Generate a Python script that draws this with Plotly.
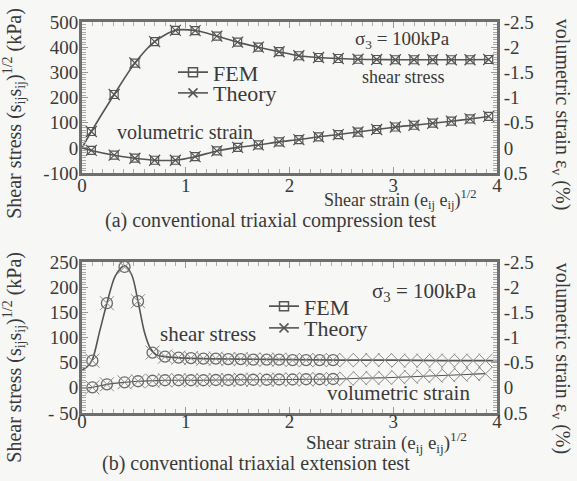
import plotly.graph_objects as go

# ---------------- data ----------------
# (a) conventional triaxial compression test
strain_a = [0.09, 0.31, 0.51, 0.70, 0.90, 1.09, 1.30, 1.50, 1.70, 1.90, 2.09,
            2.28, 2.47, 2.66, 2.84, 3.02, 3.20, 3.38, 3.56, 3.74, 3.92]
shear_a = [65, 212, 337, 422, 467, 466, 444, 420, 400, 382, 366,
           359, 355, 352, 351, 350, 350, 350, 350, 350, 351]
vol_a = [0.05, 0.145, 0.205, 0.245, 0.245, 0.175, 0.06, -0.01, -0.06, -0.12, -0.165,
         -0.22, -0.265, -0.315, -0.365, -0.415, -0.45, -0.49, -0.53, -0.575, -0.625]
start_a = [0.0, 0.0, 0.0]  # x, shear, vol where the curves begin

# (b) conventional triaxial extension test
strain_b = [0.10, 0.24, 0.41, 0.54, 0.68, 0.80, 0.93, 1.05, 1.17, 1.29, 1.41,
            1.53, 1.65, 1.78, 1.90, 2.03, 2.16, 2.29, 2.42, 2.55, 2.68, 2.80,
            2.92, 3.05, 3.17, 3.29, 3.41, 3.53, 3.65, 3.77, 3.89]
shear_b = [54, 168, 240, 172, 70, 62, 60, 59, 58, 58, 57,
           57, 56, 56, 56, 55, 55, 55, 55, 55, 55, 55,
           55, 54, 54, 54, 54, 54, 54, 54, 54]
vol_b = [-0.01, -0.07, -0.11, -0.13, -0.14, -0.15, -0.15, -0.15, -0.15, -0.155, -0.155,
         -0.16, -0.16, -0.16, -0.165, -0.165, -0.17, -0.17, -0.175, -0.18, -0.19, -0.195,
         -0.2, -0.21, -0.22, -0.23, -0.24, -0.25, -0.26, -0.27, -0.28]
start_b = [0.0, 35, 0.0]
fem_count_b = 19  # FEM points end near strain 2.4

# theory curve of the extension-test shear stress (denser reading of the hump)
curve_b_x = [0.0, 0.05, 0.10, 0.17, 0.24, 0.32, 0.41, 0.48, 0.54, 0.60, 0.66, 0.72, 0.80,
             1.0, 1.5, 2.0, 2.5, 3.0, 3.5, 4.0]
curve_b_y = [35, 42, 56, 112, 168, 222, 243, 224, 172, 112, 78, 65, 62,
             59, 57, 56, 55, 55, 54, 54]

# ticks
x_ticks = [0, 1, 2, 3, 4]
x_ticktext = ["0", "1", "2", "3", "4"]
y_ticks_a = [500, 400, 300, 200, 100, 0, -100]
y_ticktext_a = ["500", "400", "300", "200", "100", "0", "-100"]
y_ticks_b = [250, 200, 150, 100, 50, 0, -50]
y_ticktext_b = ["250", "200", "150", "100", "50", "0", "- 50"]
y2_ticks = [-2.5, -2, -1.5, -1, -0.5, 0, 0.5]
y2_ticktext = ["-2.5", "-2", "-1.5", "-1", "-0.5", "0", "0.5"]

# ---------------- styling ----------------
FONT = "Liberation Serif"
TXT = "#3a3a3a"
LINE = "#555555"
FRAME = "#6e6e6e"
BG = "#f7f7f5"

W, H = 577, 481
L, R, T, B = 82, 80, 17, 68
PW, PH = W - L - R, H - T - B


def px(x):
    return (x - L) / PW


def py(y):
    return (H - B - y) / PH


fig = go.Figure()

# ---- (a) curves ----
fig.add_trace(go.Scatter(x=[start_a[0]] + strain_a, y=[start_a[1]] + shear_a, mode="lines",
                         line=dict(color=LINE, width=1.6, shape="spline", smoothing=0.8),
                         xaxis="x", yaxis="y", showlegend=False, hoverinfo="skip"))
fig.add_trace(go.Scatter(x=[start_a[0]] + strain_a, y=[start_a[2]] + vol_a, mode="lines",
                         line=dict(color=LINE, width=1.6, shape="spline", smoothing=0.8),
                         xaxis="x", yaxis="y2", showlegend=False, hoverinfo="skip"))
for yv, ax in ((shear_a, "y"), (vol_a, "y2")):
    fig.add_trace(go.Scatter(x=strain_a, y=yv, mode="markers", xaxis="x", yaxis=ax,
                             marker=dict(symbol="square-open", size=8, color=LINE, line=dict(width=1.2)),
                             showlegend=False))
    fig.add_trace(go.Scatter(x=strain_a, y=yv, mode="markers", xaxis="x", yaxis=ax,
                             marker=dict(symbol="x-thin-open", size=11, color=LINE, line=dict(width=1.2, color=LINE)),
                             showlegend=False))

# ---- (b) curves ----
fig.add_trace(go.Scatter(x=curve_b_x, y=curve_b_y, mode="lines",
                         line=dict(color=LINE, width=1.6, shape="spline", smoothing=0.8),
                         xaxis="x2", yaxis="y3", showlegend=False, hoverinfo="skip"))
fig.add_trace(go.Scatter(x=[start_b[0]] + strain_b, y=[start_b[2]] + vol_b, mode="lines",
                         line=dict(color=LINE, width=1.2, shape="spline", smoothing=0.6),
                         xaxis="x2", yaxis="y4", showlegend=False, hoverinfo="skip"))
for yv, ax in ((shear_b, "y3"), (vol_b, "y4")):
    fig.add_trace(go.Scatter(x=strain_b[:fem_count_b], y=yv[:fem_count_b], mode="markers",
                             xaxis="x2", yaxis=ax,
                             marker=dict(symbol="circle-open", size=11, color="#6a6a6a", line=dict(width=1.3)),
                             showlegend=False))
    fig.add_trace(go.Scatter(x=strain_b, y=yv, mode="markers", xaxis="x2", yaxis=ax,
                             marker=dict(symbol="x-thin-open", size=14, color="#8a8a8a",
                                         line=dict(width=1.0, color="#8a8a8a")),
                             showlegend=False))

# ---- legend entries (one legend per entry so their spacing can match) ----
for name, sym, lg in (("FEM", "square-open", "legend"), ("Theory", "x-thin-open", "legend2"),
                      ("FEM", "square-open", "legend3"), ("Theory", "x-thin-open", "legend4")):
    fig.add_trace(go.Scatter(x=[None], y=[None], mode="lines+markers", name=name, legend=lg,
                             line=dict(color=LINE, width=1.6),
                             marker=dict(symbol=sym, size=9, color=LINE, line=dict(width=1.5, color=LINE)),
                             xaxis="x", yaxis="y"))

axis_common = dict(showline=True, linewidth=3, linecolor=FRAME, ticks="inside", ticklen=6,
                   tickcolor="#999999", tickwidth=1, showgrid=False, zeroline=False,
                   tickfont=dict(family=FONT, size=19, color=TXT))

xcommon = dict(axis_common, range=[0, 4], tickvals=x_ticks, ticktext=x_ticktext, mirror="ticks",
               minor=dict(dtick=0.1, ticklen=4, ticks="inside", tickcolor="#aaaaaa"))

dom_a = [py(170), py(17)]
dom_b = [py(413), py(260)]


def leg(x, y):
    return dict(x=px(x), y=py(y), xanchor="left", yanchor="middle", bgcolor="rgba(0,0,0,0)",
                font=dict(family=FONT, size=22, color=TXT), itemwidth=30)


fig.update_layout(
    width=W, height=H, margin=dict(l=L, r=R, t=T, b=B),
    paper_bgcolor=BG, plot_bgcolor=BG,
    font=dict(family=FONT, color=TXT, size=17),
    xaxis=dict(xcommon, domain=[0, 1], anchor="y", ticklabelstandoff=-7),
    yaxis=dict(axis_common, domain=dom_a, range=[-100, 500], tickvals=y_ticks_a, ticktext=y_ticktext_a,
               mirror=True, anchor="x", ticklabelstandoff=-3,
               minor=dict(dtick=10, ticklen=4, ticks="inside", tickcolor="#aaaaaa")),
    yaxis2=dict(axis_common, overlaying="y", side="right", range=[0.5, -2.5], tickvals=y2_ticks,
                ticktext=y2_ticktext, anchor="x",
                minor=dict(dtick=0.05, ticklen=4, ticks="inside", tickcolor="#aaaaaa")),
    xaxis2=dict(xcommon, domain=[0, 1], anchor="y3", ticklabelstandoff=-11),
    yaxis3=dict(axis_common, domain=dom_b, range=[-50, 250], tickvals=y_ticks_b, ticktext=y_ticktext_b,
                mirror=True, anchor="x2", ticklabelstandoff=-3,
                minor=dict(dtick=5, ticklen=4, ticks="inside", tickcolor="#aaaaaa")),
    yaxis4=dict(axis_common, overlaying="y3", side="right", range=[0.5, -2.5], tickvals=y2_ticks,
                ticktext=y2_ticktext, anchor="x2",
                minor=dict(dtick=0.05, ticklen=4, ticks="inside", tickcolor="#aaaaaa")),
    legend=leg(173, 68),
    legend2=leg(173, 89),
    legend3=leg(264, 305),
    legend4=leg(264, 327),
    showlegend=True,
)

ann = []


def text(x, y, s, size=17, angle=0, xanchor="center"):
    ann.append(dict(x=px(x), y=py(y), xref="paper", yref="paper", text=s, showarrow=False,
                    font=dict(family=FONT, size=size, color=TXT), textangle=angle,
                    xanchor=xanchor, yanchor="middle"))


text(402, 35, "σ<sub>3</sub> = 100kPa", 19)
text(403, 73, "shear stress", 18)
text(185, 128, "volumetric strain", 20)
text(208, 333, "shear stress", 21)
text(424, 290, "σ<sub>3</sub> = 100kPa", 21)
text(398, 393, "volumetric strain", 21)
text(400, 197, "Shear strain (e<sub>ij</sub> e<sub>ij</sub>)<sup>1/2</sup>", 18)
text(386, 443, "Shear strain (e<sub>ij</sub> e<sub>ij</sub>)<sup>1/2</sup>", 19)
text(270, 218, "(a) conventional triaxial compression test", 20)
text(256, 464, "(b) conventional triaxial extension test", 20)
text(14, 110, "Shear stress (s<sub>ij</sub>s<sub>ij</sub>)<sup>1/2</sup> (kPa)", 20, -90)
text(14, 357, "Shear stress (s<sub>ij</sub>s<sub>ij</sub>)<sup>1/2</sup> (kPa)", 20, -90)
text(561, 110, "volumetric strain ε<sub>v</sub> (%)", 20, 90)
text(561, 357, "volumetric strain ε<sub>v</sub> (%)", 20, 90)

fig.update_layout(annotations=ann)
fig.write_html("out.html", config={"displayModeBar": False},
               post_script="document.body.style.margin='0';")
